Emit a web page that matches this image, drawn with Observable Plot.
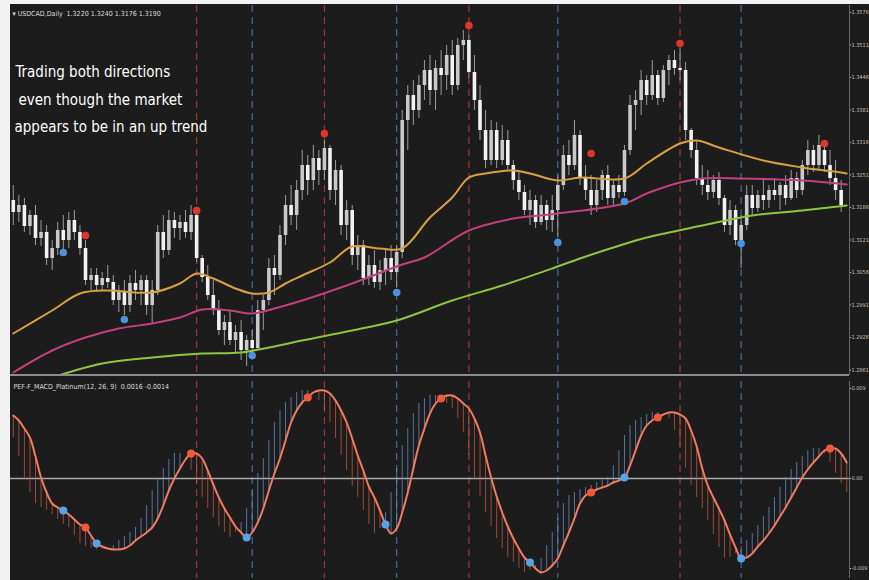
<!DOCTYPE html>
<html>
<head>
<meta charset="utf-8">
<script src="https://cdn.jsdelivr.net/npm/d3@7"></script>
<script src="https://cdn.jsdelivr.net/npm/@observablehq/plot@0.6"></script>
<style>
  html, body { margin: 0; padding: 0; background: #f2f2f2; }
  #wrap { position: relative; width: 869px; height: 580px; background: #f2f2f2; overflow: hidden; }
  #dark { position: absolute; left: 10px; top: 4px; width: 859px; height: 576px; background: #1c1c1c; }
  #top, #bottom { position: absolute; left: 0; }
  #top { top: 0; }
  #bottom { top: 376px; }
</style>
</head>
<body>
<div id="wrap"><div id="dark"></div><div id="top"></div><div id="bottom"></div></div>
<script>
// ---------- DATA ----------
const titleText = "\u25BE USDCAD,Daily  1.3220 1.3240 1.3176 1.3190";
const macdTitle = "PEF-F_MACD_Platinum(12, 26, 9)  0.0016 -0.0014";
const noteLines = ["Trading both directions", "even though the market", "appears to be in an up trend"];

const opens = [1.3200,1.3176,1.3190,1.3148,1.3170,1.3124,1.3136,1.3084,1.3104,1.3140,
1.3120,1.3160,1.3136,1.3104,1.3040,1.3050,1.3030,1.3044,1.3036,1.3000,
1.3016,1.2990,1.3034,1.3020,1.3040,1.2990,1.3020,1.3136,1.3100,1.3160,
1.3144,1.3156,1.3136,1.3170,1.3084,1.3046,1.3010,1.2980,1.2940,1.2956,
1.2920,1.2936,1.2900,1.2920,1.2904,1.2980,1.3000,1.3064,1.3050,1.3130,
1.3190,1.3170,1.3220,1.3270,1.3240,1.3284,1.3260,1.3304,1.3220,1.3260,
1.3150,1.3180,1.3090,1.3110,1.3044,1.3070,1.3036,1.3060,1.3084,1.3056,
1.3096,1.3360,1.3410,1.3380,1.3430,1.3460,1.3420,1.3464,1.3450,1.3490,
1.3430,1.3510,1.3520,1.3456,1.3400,1.3340,1.3280,1.3340,1.3280,1.3320,
1.3270,1.3240,1.3216,1.3180,1.3200,1.3156,1.3190,1.3160,1.3180,1.3230,
1.3290,1.3270,1.3330,1.3244,1.3220,1.3190,1.3220,1.3250,1.3204,1.3230,
1.3216,1.3300,1.3390,1.3400,1.3440,1.3410,1.3450,1.3404,1.3460,1.3480,
1.3464,1.3460,1.3340,1.3300,1.3244,1.3230,1.3216,1.3240,1.3204,1.3150,
1.3180,1.3120,1.3150,1.3210,1.3184,1.3210,1.3200,1.3220,1.3210,1.3230,
1.3204,1.3244,1.3220,1.3270,1.3300,1.3270,1.3300,1.3270,1.3244,1.3220];

const highs = [1.3230,1.3210,1.3204,1.3180,1.3190,1.3160,1.3150,1.3120,1.3156,1.3170,
1.3176,1.3180,1.3150,1.3120,1.3064,1.3064,1.3056,1.3070,1.3050,1.3030,
1.3040,1.3050,1.3060,1.3050,1.3050,1.3040,1.3150,1.3170,1.3180,1.3176,
1.3170,1.3180,1.3190,1.3176,1.3090,1.3070,1.3040,1.3000,1.2970,1.2980,
1.2950,1.2960,1.2930,1.2940,1.3000,1.3010,1.3084,1.3090,1.3150,1.3210,
1.3230,1.3240,1.3300,1.3290,1.3310,1.3300,1.3320,1.3310,1.3280,1.3270,
1.3200,1.3190,1.3130,1.3120,1.3090,1.3100,1.3080,1.3100,1.3110,1.3110,
1.3380,1.3430,1.3440,1.3450,1.3480,1.3490,1.3480,1.3500,1.3510,1.3520,
1.3524,1.3540,1.3530,1.3490,1.3430,1.3380,1.3360,1.3356,1.3350,1.3340,
1.3280,1.3260,1.3230,1.3220,1.3210,1.3210,1.3200,1.3210,1.3250,1.3310,
1.3320,1.3360,1.3340,1.3270,1.3250,1.3240,1.3260,1.3270,1.3240,1.3250,
1.3310,1.3410,1.3420,1.3460,1.3450,1.3480,1.3460,1.3470,1.3490,1.3500,
1.3504,1.3476,1.3344,1.3320,1.3270,1.3260,1.3250,1.3256,1.3210,1.3200,
1.3190,1.3170,1.3230,1.3230,1.3220,1.3240,1.3230,1.3244,1.3236,1.3250,
1.3260,1.3256,1.3280,1.3320,1.3310,1.3330,1.3306,1.3300,1.3280,1.3240];

const lows = [1.3150,1.3156,1.3136,1.3130,1.3110,1.3108,1.3070,1.3060,1.3090,1.3100,
1.3104,1.3120,1.3090,1.3030,1.3020,1.3016,1.3020,1.3024,1.2990,1.2976,
1.2970,1.2976,1.3000,1.2990,1.2970,1.2954,1.3010,1.3084,1.3090,1.3124,
1.3120,1.3124,1.3120,1.3076,1.3036,1.3000,1.2970,1.2930,1.2910,1.2910,
1.2896,1.2880,1.2868,1.2896,1.2900,1.2940,1.2990,1.3010,1.3040,1.3110,
1.3150,1.3140,1.3200,1.3210,1.3220,1.3230,1.3240,1.3200,1.3190,1.3130,
1.3120,1.3070,1.3060,1.3030,1.3030,1.3024,1.3020,1.3030,1.3040,1.3026,
1.3084,1.3300,1.3350,1.3364,1.3400,1.3390,1.3380,1.3410,1.3420,1.3410,
1.3420,1.3480,1.3444,1.3380,1.3320,1.3264,1.3270,1.3264,1.3270,1.3260,
1.3220,1.3200,1.3170,1.3150,1.3144,1.3150,1.3140,1.3136,1.3128,1.3220,
1.3250,1.3260,1.3230,1.3200,1.3170,1.3176,1.3200,1.3190,1.3190,1.3204,
1.3208,1.3290,1.3340,1.3370,1.3390,1.3400,1.3390,1.3396,1.3430,1.3450,
1.3440,1.3320,1.3284,1.3230,1.3210,1.3200,1.3204,1.3190,1.3136,1.3130,
1.3110,1.3064,1.3140,1.3170,1.3176,1.3180,1.3184,1.3200,1.3180,1.3190,
1.3200,1.3204,1.3210,1.3250,1.3256,1.3260,1.3256,1.3230,1.3200,1.3176];

const closes = [1.3176,1.3190,1.3148,1.3170,1.3124,1.3136,1.3084,1.3104,1.3140,1.3120,
1.3160,1.3136,1.3104,1.3040,1.3050,1.3030,1.3044,1.3036,1.3000,1.3016,
1.2990,1.3034,1.3020,1.3040,1.2990,1.3020,1.3136,1.3100,1.3160,1.3144,
1.3156,1.3136,1.3170,1.3084,1.3046,1.3010,1.2980,1.2940,1.2956,1.2920,
1.2936,1.2900,1.2920,1.2904,1.2980,1.3000,1.3064,1.3050,1.3130,1.3190,
1.3170,1.3220,1.3270,1.3240,1.3284,1.3260,1.3304,1.3220,1.3260,1.3150,
1.3180,1.3090,1.3110,1.3044,1.3070,1.3036,1.3060,1.3084,1.3056,1.3096,
1.3360,1.3410,1.3380,1.3430,1.3460,1.3420,1.3464,1.3450,1.3490,1.3430,
1.3510,1.3520,1.3456,1.3400,1.3340,1.3280,1.3340,1.3280,1.3320,1.3270,
1.3240,1.3216,1.3180,1.3200,1.3156,1.3190,1.3160,1.3180,1.3230,1.3290,
1.3270,1.3330,1.3244,1.3220,1.3190,1.3220,1.3250,1.3204,1.3230,1.3216,
1.3300,1.3390,1.3400,1.3440,1.3410,1.3450,1.3404,1.3460,1.3480,1.3464,
1.3460,1.3340,1.3300,1.3244,1.3230,1.3216,1.3240,1.3204,1.3150,1.3180,
1.3120,1.3150,1.3210,1.3184,1.3210,1.3200,1.3220,1.3210,1.3230,1.3204,
1.3244,1.3220,1.3270,1.3300,1.3270,1.3310,1.3270,1.3244,1.3220,1.3190];

// moving averages: [bar, value] read points
const maFastBars = [0,7,12,17,25,30,33,36,40,43,46,49,52,57,61,66,70,75,79,82,85,90,93,98,102,110,114,120,123,127,135,142,149,150];
const maFastVals = [1.2934,1.2980,1.3014,1.3020,1.3016,1.3034,1.3054,1.3044,1.3024,1.3014,1.3016,1.3034,1.3050,1.3076,1.3108,1.3104,1.3104,1.3166,1.3206,1.3246,1.3254,1.3260,1.3254,1.3240,1.3246,1.3244,1.3274,1.3314,1.3320,1.3306,1.3280,1.3266,1.3256,1.3254];
const maMidBars = [0,7,13,19,25,30,34,39,43,47,52,61,70,74,82,90,98,110,114,120,124,131,142,150];
const maMidVals = [1.2856,1.2900,1.2926,1.2944,1.2954,1.2966,1.2982,1.2980,1.2974,1.2984,1.3000,1.3034,1.3072,1.3086,1.3140,1.3164,1.3174,1.3194,1.3214,1.3236,1.3244,1.3244,1.3240,1.3232];
const maSlowBars = [7,16,25,34,41,46,52,61,69,79,88,97,102,108,114,124,133,142,150];
const maSlowVals = [1.2846,1.2874,1.2886,1.2894,1.2896,1.2906,1.2920,1.2940,1.2960,1.3000,1.3030,1.3064,1.3084,1.3106,1.3126,1.3150,1.3170,1.3180,1.3190];

// signal dots on price
const priceBlueBars = [9,20,43,69,98,110,131];
const priceBlueVals = [1.3096,1.2962,1.2890,1.3016,1.3116,1.3198,1.3114];
const priceRedBars = [13,33,56,82,104,120,146];
const priceRedVals = [1.3130,1.3180,1.3334,1.3550,1.3294,1.3514,1.3314];

// vertical signal lines
const redLineBars = [33,56,82,120];
const blueLineBars = [43,69,98,131];

// oscillator
const macd = [0.0063,0.0058,0.0050,0.0041,0.0022,0.0001,-0.0014,-0.0025,-0.0029,-0.0032,
-0.0036,-0.0041,-0.0046,-0.0049,-0.0057,-0.0065,-0.0068,-0.0070,-0.0071,-0.0071,
-0.0070,-0.0067,-0.0062,-0.0058,-0.0054,-0.0049,-0.0040,-0.0027,-0.0012,0.0000,
0.0010,0.0019,0.0025,0.0025,0.0020,0.0008,-0.0006,-0.0019,-0.0030,-0.0039,
-0.0048,-0.0054,-0.0059,-0.0054,-0.0044,-0.0030,-0.0012,0.0005,0.0020,0.0038,
0.0056,0.0068,0.0076,0.0081,0.0086,0.0088,0.0088,0.0085,0.0078,0.0068,
0.0056,0.0040,0.0023,0.0008,-0.0008,-0.0019,-0.0032,-0.0046,-0.0055,-0.0050,
-0.0034,-0.0014,0.0010,0.0033,0.0050,0.0065,0.0075,0.0080,0.0083,0.0083,
0.0080,0.0075,0.0070,0.0060,0.0046,0.0023,0.0001,-0.0018,-0.0034,-0.0048,
-0.0060,-0.0070,-0.0079,-0.0084,-0.0090,-0.0094,-0.0092,-0.0087,-0.0080,-0.0067,
-0.0054,-0.0040,-0.0025,-0.0017,-0.0014,-0.0011,-0.0009,-0.0007,-0.0004,-0.0002,
0.0001,0.0013,0.0028,0.0043,0.0053,0.0058,0.0061,0.0064,0.0066,0.0066,
0.0064,0.0060,0.0048,0.0032,0.0010,-0.0007,-0.0019,-0.0030,-0.0042,-0.0056,
-0.0069,-0.0080,-0.0079,-0.0075,-0.0068,-0.0062,-0.0055,-0.0047,-0.0038,-0.0029,
-0.0019,-0.0009,0.0001,0.0009,0.0016,0.0022,0.0028,0.0030,0.0030,0.0025,0.0016];
const lead = [0.0041,0.0022,0.0001,-0.0014,-0.0025,-0.0029,-0.0032,-0.0036,-0.0041,-0.0046,
-0.0049,-0.0057,-0.0065,-0.0068,-0.0070,-0.0071,-0.0071,-0.0070,-0.0067,-0.0062,
-0.0058,-0.0054,-0.0049,-0.0040,-0.0027,-0.0012,0.0000,0.0010,0.0019,0.0025,
0.0025,0.0020,0.0008,-0.0006,-0.0019,-0.0030,-0.0039,-0.0048,-0.0054,-0.0059,
-0.0054,-0.0044,-0.0030,-0.0012,0.0005,0.0020,0.0038,0.0056,0.0068,0.0076,
0.0081,0.0086,0.0088,0.0088,0.0085,0.0078,0.0068,0.0056,0.0040,0.0023,
0.0008,-0.0008,-0.0019,-0.0032,-0.0046,-0.0055,-0.0050,-0.0034,-0.0014,0.0010,
0.0033,0.0050,0.0065,0.0075,0.0080,0.0083,0.0083,0.0080,0.0075,0.0070,
0.0060,0.0046,0.0023,0.0001,-0.0018,-0.0034,-0.0048,-0.0060,-0.0070,-0.0079,
-0.0084,-0.0090,-0.0094,-0.0092,-0.0087,-0.0080,-0.0067,-0.0054,-0.0040,-0.0025,
-0.0017,-0.0014,-0.0011,-0.0009,-0.0007,-0.0004,-0.0002,0.0001,0.0013,0.0028,
0.0043,0.0053,0.0058,0.0061,0.0064,0.0066,0.0066,0.0064,0.0060,0.0048,
0.0032,0.0010,-0.0007,-0.0019,-0.0030,-0.0042,-0.0056,-0.0069,-0.0080,-0.0079,
-0.0075,-0.0068,-0.0062,-0.0055,-0.0047,-0.0038,-0.0029,-0.0019,-0.0009,0.0001,
0.0009,0.0016,0.0022,0.0028,0.0030,0.0030,0.0025,0.0016,0.0005,-0.0005,-0.0014];
const macdBlueBars = [9,15,42,67,93,110,131];
const macdRedBars = [13,32,53,77,104,116,147];

// axis ticks
const priceTicks = [1.3576,1.3511,1.3446,1.3381,1.3316,1.3251,1.3186,1.3121,1.3056,1.2991,1.2926,1.2861];
const macdTicks = [0.009, 0, -0.009];

// ---------- BUILD ----------
const candles = opens.map((o, i) => ({i, o, h: highs[i], l: lows[i], c: closes[i]}));
const pts = (bars, vals) => bars.map((b, k) => ({i: b, v: vals[k]}));
const osc = macd.map((m, i) => ({i, m, s: lead[i]}));
const xDomain = [-0.5, 150.5];
const axisFont = "DejaVu Sans Condensed, DejaVu Sans, sans-serif";

const topPlot = Plot.plot({
  width: 869, height: 376,
  marginTop: 5, marginBottom: 1, marginLeft: 10, marginRight: 20,
  style: {background: "transparent", color: "#c4c4c4", fontSize: "5.5px", fontFamily: axisFont},
  x: {domain: xDomain, axis: null},
  y: {domain: [1.2850, 1.3590], axis: "right", ticks: priceTicks, tickFormat: d => d.toFixed(4), tickSize: 1, tickPadding: 1, label: null},
  marks: [
    Plot.ruleX(redLineBars, {x: d => d, stroke: "#9a3838", strokeWidth: 1.2, strokeDasharray: "7,5"}),
    Plot.ruleX(blueLineBars, {x: d => d, stroke: "#44679a", strokeWidth: 1.2, strokeDasharray: "7,5"}),
    Plot.ruleX(candles, {x: "i", y1: "l", y2: "h", stroke: "#9c9c9c", strokeWidth: 1}),
    Plot.ruleX(candles, {x: "i", y1: "o", y2: "c", stroke: d => d.c >= d.o ? "#c9c9c9" : "#f2f2f2", strokeWidth: 3.6}),
    Plot.line(pts(maSlowBars, maSlowVals), {x: "i", y: "v", stroke: "#8cc63f", strokeWidth: 2, curve: "catmull-rom", clip: true}),
    Plot.line(pts(maMidBars, maMidVals), {x: "i", y: "v", stroke: "#c2407c", strokeWidth: 2, curve: "catmull-rom", clip: true}),
    Plot.line(pts(maFastBars, maFastVals), {x: "i", y: "v", stroke: "#d9a043", strokeWidth: 2, curve: "catmull-rom", clip: true}),
    Plot.dot(pts(priceBlueBars, priceBlueVals), {x: "i", y: "v", r: 3.8, fill: "#4d93dc"}),
    Plot.dot(pts(priceRedBars, priceRedVals), {x: "i", y: "v", r: 3.8, fill: "#e0352b"}),
    Plot.ruleY([1.2850], {stroke: "#8c8c8c", strokeWidth: 3}),
    Plot.ruleX([150.5], {stroke: "#666", strokeWidth: 1}),
    Plot.text([titleText], {frameAnchor: "top-left", dx: 2, dy: 8, text: d => d, fill: "#dcdcdc", fontSize: 7, textAnchor: "start", lineAnchor: "middle"}),
    ...noteLines.map((t, k) => Plot.text([t], {frameAnchor: "top-left", text: d => d, dx: [5, 8, 4][k], dy: [67, 95, 122][k],
      fill: "#ffffff", fontSize: 15, fontFamily: "DejaVu Sans Condensed, DejaVu Sans, sans-serif", textAnchor: "start", lineAnchor: "middle"}))
  ]
});
document.getElementById("top").appendChild(topPlot);

const botPlot = Plot.plot({
  width: 869, height: 204,
  marginTop: 5, marginBottom: 2, marginLeft: 10, marginRight: 20,
  style: {background: "transparent", color: "#c4c4c4", fontSize: "5.5px", fontFamily: axisFont},
  x: {domain: xDomain, axis: null},
  y: {domain: [-0.0100, 0.0097], axis: "right", ticks: macdTicks, tickFormat: d => d === 0 ? "0.00" : d.toFixed(3), tickSize: 1, tickPadding: 1, label: null},
  marks: [
    Plot.ruleX(redLineBars, {x: d => d, stroke: "#9a3838", strokeWidth: 1.2, strokeDasharray: "7,5"}),
    Plot.ruleX(blueLineBars, {x: d => d, stroke: "#44679a", strokeWidth: 1.2, strokeDasharray: "7,5"}),
    Plot.ruleY([0], {stroke: "#a8a8a8", strokeWidth: 1.5}),
    Plot.ruleX(osc, {x: "i", y1: "m", y2: "s", stroke: d => d.s > d.m ? "#6b8fcc" : "#c65a44", strokeWidth: 1, strokeOpacity: 0.75}),
    Plot.line(osc, {x: "i", y: "m", stroke: "#f07a62", strokeWidth: 2, curve: "catmull-rom"}),
    Plot.dot(macdBlueBars, {x: d => d, y: d => macd[d], r: 4, fill: "#5aa2e6"}),
    Plot.dot(macdRedBars, {x: d => d, y: d => macd[d], r: 4, fill: "#f0583a"}),
    Plot.ruleX([150.5], {stroke: "#666", strokeWidth: 1}),
    Plot.text([macdTitle], {frameAnchor: "top-left", dx: 3, dy: 5, text: d => d, fill: "#dcdcdc", fontSize: 7, textAnchor: "start", lineAnchor: "middle"})
  ]
});
document.getElementById("bottom").appendChild(botPlot);
</script>
</body>
</html>
